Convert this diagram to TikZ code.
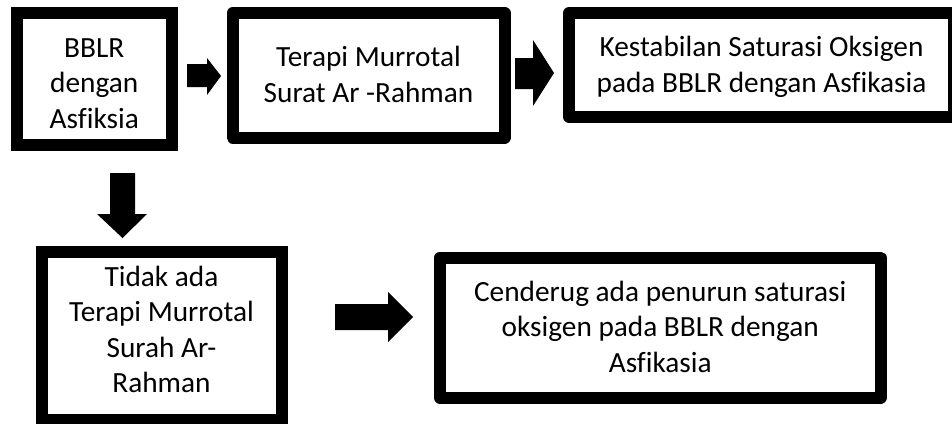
\documentclass[tikz,border=0pt]{standalone}
\usepackage{fontspec}
\setmainfont{Carlito}[Ligatures=NoCommon]
\begin{document}
\begin{tikzpicture}[x=1pt,y=-1pt,
  sqbox/.style={draw, line width=12pt, line join=miter, inner sep=0pt},
  rbox/.style={draw, line width=12pt, line join=round, inner sep=0pt},
  lbl/.style={align=center, font=\fontsize{29.3}{35.3}\selectfont, inner sep=0pt, anchor=base},
  blockarrow/.style={fill=black}]
\useasboundingbox (0,0) rectangle (952,423);
% boxes
\node[sqbox, minimum width=154.5pt, minimum height=132pt] (b1) at (94.25,79) {};
\node[rbox, minimum width=272pt, minimum height=124.5pt] (b2) at (368.5,75.25) {};
\node[rbox, minimum width=385pt, minimum height=103.5pt] (b3) at (761.5,64.75) {};
\node[sqbox, minimum width=240pt, minimum height=168pt] (b4) at (161.5,336) {};
\node[rbox, minimum width=440.5pt, minimum height=140pt] (b5) at (660.25,327.5) {};
% texts (anchored at the baseline of the last line)
\node[lbl] (t1) at (94.25,128) {BBLR\\dengan\\Asfiksia};
\node[lbl] (t2) at (368.5,102) {Terapi Murrotal\\Surat Ar -Rahman};
\node[lbl] (t3) at (761.5,92) {Kestabilan Saturasi Oksigen\\pada BBLR dengan Asfikasia};
\node[lbl] (t4) at (161.5,392.5) {Tidak ada\\Terapi Murrotal\\Surah Ar-\\Rahman};
\node[lbl] (t5) at (660.25,372) {Cenderug ada penurun saturasi\\oksigen pada BBLR dengan\\Asfikasia};
% block arrows
\fill[blockarrow] (187,64) -- (207,64) -- (207,58) -- (221,76) -- (207,95) -- (207,87) -- (187,87) -- cycle;
\fill[blockarrow] (515,58) -- (533,58) -- (533,40) -- (554,73) -- (533,106) -- (533,89) -- (515,89) -- cycle;
\fill[blockarrow] (110,173) -- (135,173) -- (135,214) -- (147,214) -- (122.5,238) -- (97,214) -- (110,214) -- cycle;
\fill[blockarrow] (335,304) -- (388,304) -- (388,292) -- (413,317) -- (388,342) -- (388,330) -- (335,330) -- cycle;
\end{tikzpicture}
\end{document}
